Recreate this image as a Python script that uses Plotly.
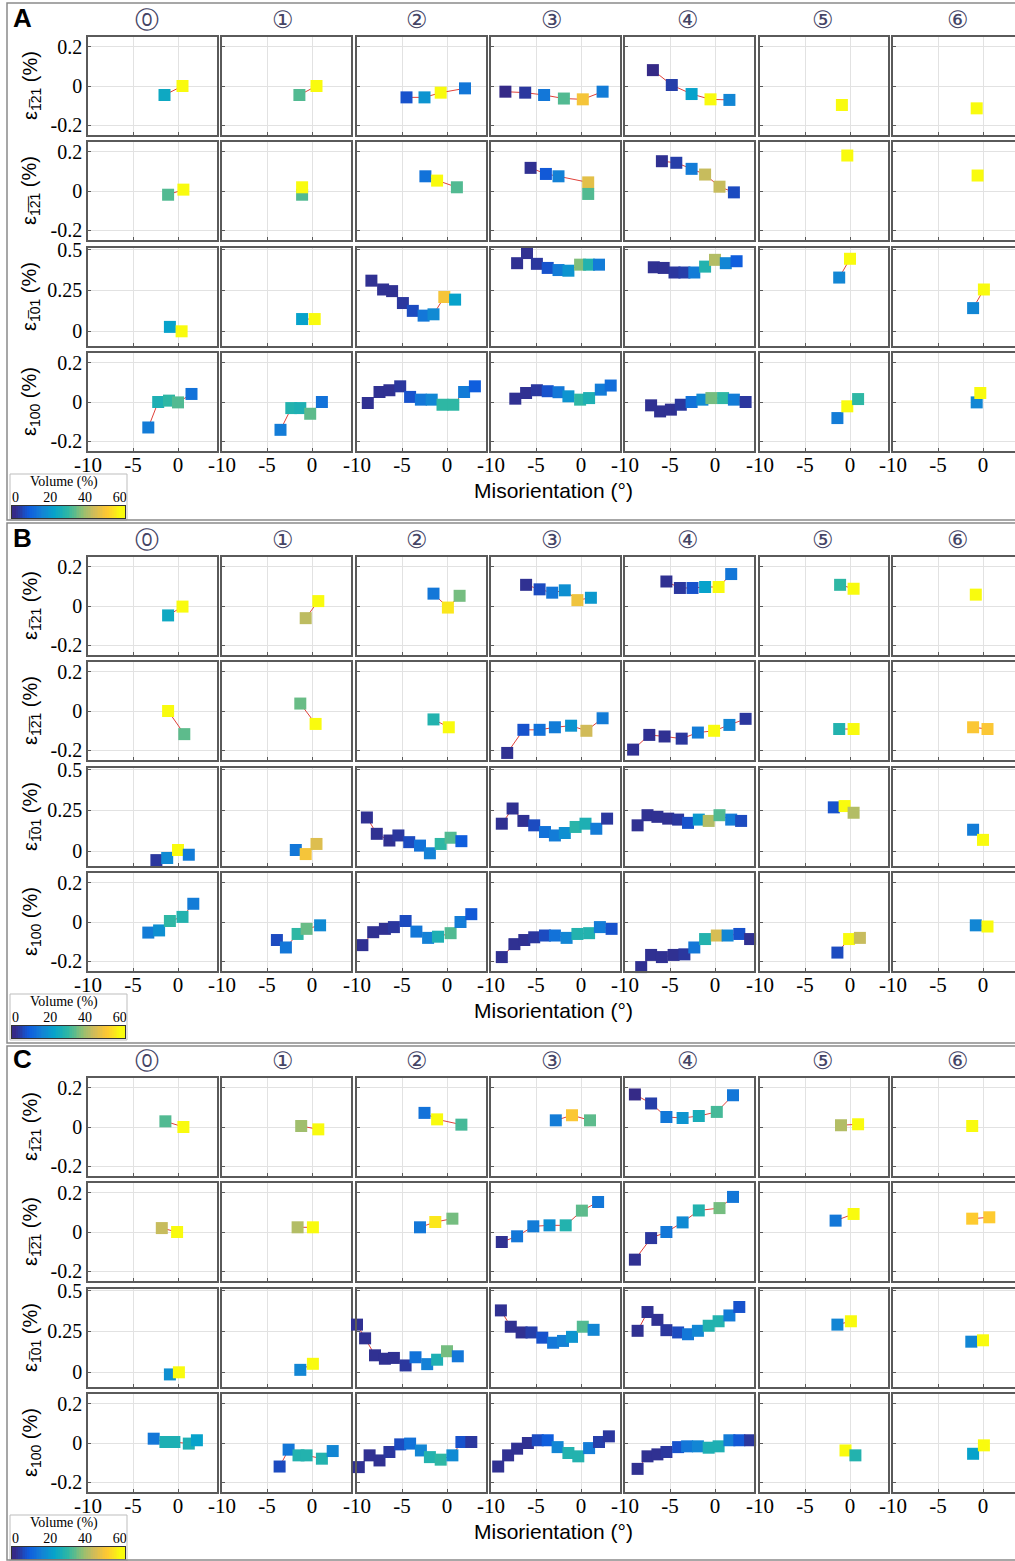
import plotly.graph_objects as go

# ---------------- data (x: misorientation °, y: strain %, v: volume %) ----------------
# Panel A
A1_x = [[-1.5, 0.5], [-1.4, 0.5], [-4.5, -2.5, -0.7, 2.0], [-8.4, -6.2, -4.1, -1.9, 0.2, 2.4], [-6.9, -4.8, -2.6, -0.5, 1.6], [-0.9], [-0.7]]
A1_y = [[-0.046, 0.0], [-0.046, 0.0], [-0.058, -0.058, -0.034, -0.012], [-0.029, -0.034, -0.046, -0.064, -0.068, -0.029], [0.081, 0.005, -0.041, -0.068, -0.071], [-0.097], [-0.114]]
A1_v = [[24, 60], [33, 60], [6, 19, 60, 13], [0, 2, 13, 33, 51, 14], [0, 3, 22, 60, 16], [60], [60]]

A2_x = [[-1.1, 0.6], [-1.1, -1.1], [-2.4, -1.1, 1.1], [-5.6, -3.9, -2.5, 0.8, 0.8], [-5.9, -4.3, -2.6, -1.1, 0.5, 2.1], [-0.3], [-0.6]]
A2_y = [[-0.019, 0.007], [-0.019, 0.019], [0.075, 0.053, 0.019], [0.118, 0.087, 0.075, 0.044, -0.015], [0.152, 0.144, 0.113, 0.084, 0.022, -0.007], [0.181], [0.079]]
A2_v = [[33, 60], [33, 60], [12, 60, 33], [1, 7, 15, 48, 33], [1, 3, 14, 44, 44, 5], [60], [60]]

A3_x = [[-0.9, 0.4], [-1.1, 0.3], [-8.4, -7.1, -6.1, -4.9, -3.8, -2.6, -1.5, -0.3, 0.9], [-7.1, -6.0, -4.9, -3.7, -2.5, -1.4, -0.1, 0.9, 2.0], [-6.8, -5.7, -4.5, -3.4, -2.3, -1.1, 0.0, 1.2, 2.4], [-1.2, 0.0], [-1.1, 0.1]]
A3_y = [[0.027, 0.0], [0.075, 0.075], [0.31, 0.256, 0.246, 0.173, 0.125, 0.096, 0.104, 0.21, 0.194], [0.417, 0.479, 0.413, 0.388, 0.375, 0.371, 0.408, 0.408, 0.408], [0.392, 0.388, 0.36, 0.36, 0.36, 0.396, 0.4375, 0.417, 0.429], [0.329, 0.444], [0.142, 0.256]]
A3_v = [[22, 60], [22, 60], [1, 1, 1, 2, 5, 13, 17, 51, 22], [1, 1, 2, 6, 14, 19, 37, 28, 14], [1, 1, 2, 3, 14, 28, 42, 16, 8], [16, 60], [16, 60]]

A4_x = [[-3.3, -2.2, -1.0, 0.0, 1.5], [-3.5, -2.3, -1.3, -0.2, 1.1], [-8.8, -7.5, -6.4, -5.2, -4.1, -2.9, -1.7, -0.5, 0.7, 1.9, 3.1], [-7.3, -6.1, -4.9, -3.7, -2.5, -1.4, -0.1, 0.9, 2.2, 3.3], [-7.1, -6.1, -4.9, -3.8, -2.6, -1.4, -0.4, 0.9, 2.1, 3.4], [-1.4, -0.3, 0.9], [-0.7, -0.3]]
A4_y = [[-0.13, 0.0, 0.007, -0.002, 0.041], [-0.142, -0.031, -0.031, -0.06, 0.0], [-0.005, 0.051, 0.06, 0.08, 0.026, 0.012, 0.012, -0.014, -0.014, 0.051, 0.08], [0.017, 0.046, 0.06, 0.055, 0.05, 0.029, 0.012, 0.02, 0.063, 0.084], [-0.017, -0.048, -0.039, -0.014, 0.0, 0.012, 0.02, 0.02, 0.012, 0.0], [-0.082, -0.022, 0.015], [-0.002, 0.046]]
A4_v = [[14, 27, 30, 33, 12], [14, 28, 27, 34, 12], [1, 1, 1, 2, 6, 13, 16, 30, 30, 14, 8], [1, 1, 2, 6, 13, 19, 30, 27, 14, 11], [1, 1, 1, 2, 12, 17, 36, 30, 14, 2], [14, 60, 30], [16, 60]]

# Panel B
B1_x = [[-1.1, 0.5], [-0.7, 0.7], [-1.5, 0.1, 1.4], [-6.1, -4.6, -3.2, -1.8, -0.4, 1.1], [-5.4, -3.9, -2.5, -1.1, 0.4, 1.8], [-1.1, 0.4], [-0.8]]
B1_y = [[-0.048, -0.003], [-0.062, 0.025], [0.063, -0.008, 0.052], [0.108, 0.085, 0.068, 0.08, 0.03, 0.042], [0.125, 0.092, 0.092, 0.097, 0.097, 0.163], [0.108, 0.088], [0.058]]
B1_v = [[24, 60], [43, 60], [13, 57, 36], [1, 5, 13, 18, 50, 20], [1, 2, 6, 22, 60, 13], [30, 60], [60]]

B2_x = [[-1.1, 0.7], [-1.3, 0.4], [-1.5, 0.2], [-8.2, -6.4, -4.6, -2.9, -1.1, 0.6, 2.4], [-9.1, -7.3, -5.6, -3.7, -1.9, -0.1, 1.6, 3.4], [-1.2, 0.4], [-1.1, 0.5]]
B2_y = [[0.0, -0.118], [0.038, -0.066], [-0.043, -0.083], [-0.214, -0.096, -0.096, -0.083, -0.075, -0.101, -0.037], [-0.197, -0.122, -0.130, -0.141, -0.11, -0.101, -0.071, -0.04], [-0.092, -0.092], [-0.083, -0.092]]
B2_v = [[60, 34], [35, 60], [28, 60], [1, 6, 12, 14, 19, 45, 14], [1, 1, 1, 2, 14, 60, 16, 2], [28, 60], [52, 52]]

B3_x = [[-2.4, -1.2, 0.0, 1.2], [-1.8, -0.7, 0.5], [-8.9, -7.8, -6.4, -5.4, -4.2, -3.0, -1.9, -0.7, 0.4, 1.6], [-8.8, -7.6, -6.4, -5.2, -4.0, -2.9, -1.8, -0.6, 0.5, 1.7, 2.9], [-8.6, -7.5, -6.4, -5.2, -4.1, -3.0, -1.8, -0.7, 0.5, 1.8, 2.9], [-1.8, -0.6, 0.4], [-1.1, 0.0]]
B3_y = [[-0.054, -0.041, 0.008, -0.021], [0.008, -0.017, 0.045], [0.207, 0.107, 0.066, 0.097, 0.056, 0.035, -0.012, 0.045, 0.083, 0.062], [0.169, 0.262, 0.186, 0.159, 0.118, 0.097, 0.112, 0.149, 0.169, 0.138, 0.2], [0.159, 0.221, 0.211, 0.2, 0.194, 0.174, 0.194, 0.186, 0.221, 0.194, 0.186], [0.269, 0.277, 0.236], [0.132, 0.07]]
B3_v = [[2, 17, 60, 14], [13, 51, 47], [1, 1, 1, 2, 5, 12, 15, 30, 33, 8], [1, 1, 1, 5, 12, 14, 18, 29, 27, 14, 2], [1, 1, 1, 1, 2, 6, 20, 42, 33, 14, 5], [6, 60, 42], [14, 60]]

B4_x = [[-3.3, -2.1, -0.9, 0.5, 1.7], [-3.9, -2.9, -1.6, -0.6, 0.9], [-9.4, -8.2, -6.9, -5.9, -4.6, -3.4, -2.1, -1.0, 0.4, 1.5, 2.7], [-8.8, -7.4, -6.3, -5.2, -4.0, -2.9, -1.6, -0.4, 0.9, 2.1, 3.4], [-8.2, -7.1, -5.9, -4.6, -3.4, -2.3, -1.1, 0.2, 1.4, 2.7, 3.9], [-1.4, -0.1, 1.1], [-0.8, 0.5]]
B4_y = [[-0.054, -0.043, 0.005, 0.026, 0.093], [-0.092, -0.13, -0.061, -0.035, -0.017], [-0.118, -0.052, -0.035, -0.026, 0.005, -0.049, -0.081, -0.075, -0.057, 0.0, 0.04], [-0.179, -0.113, -0.092, -0.078, -0.069, -0.069, -0.081, -0.061, -0.057, -0.026, -0.035], [-0.23, -0.168, -0.179, -0.168, -0.165, -0.13, -0.087, -0.069, -0.069, -0.061, -0.087], [-0.156, -0.087, -0.081], [-0.017, -0.023]]
B4_v = [[14, 18, 30, 28, 14], [5, 13, 30, 35, 17], [1, 1, 1, 2, 5, 13, 15, 27, 33, 14, 7], [1, 1, 1, 2, 5, 12, 16, 28, 28, 14, 6], [1, 1, 1, 1, 2, 13, 28, 46, 16, 6, 1], [5, 60, 44], [16, 60]]

# Panel C
C1_x = [[-1.4, 0.6], [-1.2, 0.7], [-2.5, -1.1, 1.6], [-2.8, -1.0, 1.0], [-8.9, -7.1, -5.4, -3.6, -1.8, 0.2, 2.0], [-1.0, 0.9], [-1.2]]
C1_y = [[0.029, 0.0], [0.005, -0.012], [0.072, 0.039, 0.012], [0.034, 0.06, 0.034], [0.166, 0.12, 0.051, 0.046, 0.056, 0.077, 0.162], [0.009, 0.014], [0.005]]
C1_v = [[33, 60], [40, 60], [12, 60, 32], [14, 52, 34], [0, 3, 13, 19, 26, 32, 13], [42, 60], [60]]

C2_x = [[-1.8, -0.1], [-1.6, 0.1], [-3.0, -1.3, 0.6], [-8.8, -7.1, -5.3, -3.5, -1.7, 0.1, 1.9], [-8.9, -7.1, -5.4, -3.6, -1.8, 0.5, 2.0], [-1.6, 0.4], [-1.2, 0.7]]
C2_y = [[0.02, 0.0], [0.024, 0.024], [0.024, 0.051, 0.068], [-0.051, -0.022, 0.029, 0.034, 0.034, 0.109, 0.153], [-0.141, -0.031, 0.0, 0.049, 0.11, 0.122, 0.179], [0.058, 0.092], [0.068, 0.075]]
C2_v = [[44, 60], [42, 60], [13, 57, 36], [1, 13, 14, 18, 28, 34, 13], [1, 2, 13, 17, 28, 36, 13], [13, 60], [53, 53]]

C3_x = [[-0.9, 0.1], [-1.3, 0.1], [-10.0, -9.1, -8.0, -6.9, -5.9, -4.6, -3.5, -2.2, -1.1, 0.0, 1.2], [-8.9, -7.8, -6.6, -5.5, -4.3, -3.1, -2.0, -1.0, 0.2, 1.4], [-8.6, -7.5, -6.4, -5.4, -4.1, -3.0, -1.9, -0.7, 0.4, 1.6, 2.7], [-1.4, 0.1], [-1.3, 0.0]]
C3_y = [[-0.013, 0.0], [0.015, 0.052], [0.292, 0.208, 0.104, 0.083, 0.088, 0.042, 0.092, 0.05, 0.077, 0.129, 0.098], [0.379, 0.279, 0.244, 0.244, 0.212, 0.181, 0.192, 0.217, 0.279, 0.26], [0.254, 0.369, 0.321, 0.258, 0.244, 0.233, 0.254, 0.285, 0.3125, 0.348, 0.4], [0.292, 0.3125], [0.1875, 0.196]]
C3_v = [[18, 60], [16, 60], [1, 1, 1, 1, 1, 2, 12, 15, 27, 36, 13], [1, 1, 1, 3, 6, 13, 15, 19, 33, 16], [1, 1, 1, 2, 5, 13, 16, 28, 28, 14, 6], [16, 60], [16, 60]]

C4_x = [[-2.7, -1.4, -0.4, 1.2, 2.1], [-3.6, -2.6, -1.5, -0.6, 1.1, 2.3], [-9.8, -8.6, -7.5, -6.4, -5.2, -4.1, -2.9, -1.9, -0.7, 0.6, 1.6, 2.7], [-9.2, -8.1, -7.1, -5.9, -4.8, -3.7, -2.6, -1.4, -0.3, 0.9, 2.0, 3.1], [-8.6, -7.5, -6.4, -5.4, -4.1, -3.1, -1.9, -0.7, 0.4, 1.6, 2.7, 3.9], [-0.5, 0.6], [-1.1, 0.1]]
C4_y = [[0.022, 0.005, 0.005, -0.003, 0.014], [-0.12, -0.034, -0.063, -0.063, -0.08, -0.041], [-0.123, -0.063, -0.089, -0.046, -0.007, -0.003, -0.038, -0.072, -0.085, -0.063, 0.005, 0.005], [-0.12, -0.063, -0.029, 0.0, 0.014, 0.014, -0.021, -0.051, -0.068, -0.026, 0.005, 0.034], [-0.132, -0.068, -0.058, -0.046, -0.021, -0.017, -0.017, -0.024, -0.017, 0.014, 0.014, 0.014], [-0.038, -0.063], [-0.055, -0.012]]
C4_v = [[13, 27, 27, 27, 22], [5, 13, 28, 28, 28, 16], [1, 1, 1, 2, 5, 12, 16, 28, 30, 17, 6, 2], [1, 1, 1, 1, 5, 8, 16, 28, 28, 14, 3, 2], [1, 1, 1, 2, 6, 13, 16, 27, 27, 14, 7, 2], [60, 28], [22, 60]]

PANELS = ["A", "B", "C"]
COLUMN_LABELS = ["⓪", "①", "②", "③", "④", "⑤", "⑥"]
ROW_LABELS = ["ε<sub>1̅21</sub> (%)", "ε<sub>1̅2̅1</sub> (%)", "ε<sub>1̅01</sub> (%)", "ε<sub>100</sub> (%)"]
X_TICKS = [-10, -5, 0]
Y_TICKS_STD = [-0.2, 0, 0.2]
Y_TICKS_R3 = [0, 0.25, 0.5]
CBAR_TICKS = [0, 20, 40, 60]
CBAR_LEVELS = list(range(-2, 64))  # colour-scale swatch (clamped to 0..60 %)

DATA = {
    "A": [(A1_x, A1_y, A1_v), (A2_x, A2_y, A2_v), (A3_x, A3_y, A3_v), (A4_x, A4_y, A4_v)],
    "B": [(B1_x, B1_y, B1_v), (B2_x, B2_y, B2_v), (B3_x, B3_y, B3_v), (B4_x, B4_y, B4_v)],
    "C": [(C1_x, C1_y, C1_v), (C2_x, C2_y, C2_v), (C3_x, C3_y, C3_v), (C4_x, C4_y, C4_v)],
}

# ---------------- layout geometry (pixels) ----------------
W, H = 1015, 1561
PANEL_OFF = [0, 520, 1041]
COL_L = [88, 222, 357, 491, 625, 760, 893]
COL_W = [129, 129, 129, 129, 129, 128, 122]
HEADER_X = [147, 283, 417, 552, 688, 823, 958]
ROW_T = [37, 142, 248, 353]
BOX_H = 98
PX_PER_DEG = 9.0

PARULA = [
    [0.0, "#352a87"], [0.125, "#0f5cdd"], [0.25, "#1481d6"], [0.375, "#06a4ca"],
    [0.5, "#2eb7a4"], [0.625, "#87bf77"], [0.75, "#d1bb59"], [0.875, "#fec832"], [1.0, "#f9fb0e"],
]

FONT = "Liberation Sans"
NARROW = "Liberation Sans Narrow"


def px(x):
    return x / W


def py(y):
    return 1 - y / H


fig = go.Figure()
layout = {}
annotations = []
shapes = []

for p, pname in enumerate(PANELS):
    off = PANEL_OFF[p]
    cax = "coloraxis" if p == 0 else f"coloraxis{p + 1}"
    for r in range(4):
        xs_all, ys_all, vs_all = DATA[pname][r]
        top = off + ROW_T[r]
        for c in range(7):
            i = p * 28 + r * 7 + c + 1
            xn = "x" if i == 1 else f"x{i}"
            yn = "y" if i == 1 else f"y{i}"
            left = COL_L[c]
            w = COL_W[c]
            xr = [-10, -10 + w / PX_PER_DEG]
            yr = [-0.09, 0.51] if r == 2 else [-0.25, 0.25]
            ytv = Y_TICKS_R3 if r == 2 else Y_TICKS_STD
            ytt = ["0", "0.25", "0.5"] if r == 2 else ["-0.2", "0", "0.2"]
            layout["xaxis" if i == 1 else f"xaxis{i}"] = dict(
                domain=[px(left), min(1.0, px(left + w))], anchor=yn, range=xr,
                tickvals=X_TICKS, ticktext=[str(t) for t in X_TICKS],
                showticklabels=(r == 3), showgrid=True, gridcolor="#e2e2e2", gridwidth=1,
                zeroline=False, showline=True, mirror=True, linecolor="#5a5a5a", linewidth=1.5,
                ticks="inside", ticklen=3, tickcolor="#5a5a5a", automargin=False,
                ticklabelstandoff=-6,
                tickfont=dict(family=NARROW, size=21, color="black"), fixedrange=True,
            )
            layout["yaxis" if i == 1 else f"yaxis{i}"] = dict(
                domain=[py(top + BOX_H), py(top)], anchor=xn, range=yr,
                tickvals=ytv, ticktext=ytt,
                showticklabels=(c == 0), showgrid=True, gridcolor="#e2e2e2", gridwidth=1,
                zeroline=False, showline=True, mirror=True, linecolor="#5a5a5a", linewidth=1.5,
                ticks="inside", ticklen=3, tickcolor="#5a5a5a", automargin=False,
                tickfont=dict(family=NARROW, size=20, color="black"), fixedrange=True,
            )
            fig.add_trace(go.Scatter(
                x=xs_all[c], y=ys_all[c], xaxis=xn, yaxis=yn,
                mode="lines+markers",
                line=dict(color="#e0413a", width=1),
                marker=dict(symbol="square", size=12, color=vs_all[c], coloraxis=cax,
                            line=dict(width=0)),
                cliponaxis=False, showlegend=False, hoverinfo="skip",
            ))
        # row y-title
        annotations.append(dict(
            x=px(31), y=py(top + BOX_H / 2), xref="paper", yref="paper",
            text=ROW_LABELS[r], textangle=-90, showarrow=False,
            font=dict(family=FONT, size=20, color="black"),
            xanchor="center", yanchor="middle",
        ))
    # column headers
    for c in range(7):
        annotations.append(dict(
            x=px(HEADER_X[c]), y=py(off + 20), xref="paper", yref="paper",
            text=COLUMN_LABELS[c], showarrow=False,
            font=dict(family="DejaVu Sans", size=24, color="#454566"),
            xanchor="center", yanchor="middle",
        ))
    # panel letter
    annotations.append(dict(
        x=px(11), y=py(off + 18), xref="paper", yref="paper", text=f"<b>{pname}</b>",
        showarrow=False, font=dict(family=FONT, size=26, color="black"),
        xanchor="left", yanchor="middle",
    ))
    # x title
    annotations.append(dict(
        x=px(553), y=py(off + 490), xref="paper", yref="paper", text="Misorientation (°)",
        showarrow=False, font=dict(family=FONT, size=21, color="black"),
        xanchor="center", yanchor="middle",
    ))
    # colour axis (the scale is drawn as a small swatch axis)
    layout[cax] = dict(cmin=0, cmax=60, colorscale=PARULA, showscale=False)
    j = 84 + p + 1
    layout[f"xaxis{j}"] = dict(
        domain=[px(12), px(125)], anchor=f"y{j}", range=[-2, 63], side="top",
        tickvals=CBAR_TICKS, ticktext=[str(t) for t in CBAR_TICKS], ticks="",
        showgrid=False, zeroline=False, showline=True, mirror=True, linecolor="#333", linewidth=1,
        tickfont=dict(family=NARROW, size=14, color="black"), automargin=False, fixedrange=True,
        ticklabelstandoff=-3,
    )
    layout[f"yaxis{j}"] = dict(
        domain=[py(off + 518), py(off + 506)], anchor=f"x{j}", range=[-0.5, 0.5],
        showticklabels=False, ticks="", showgrid=False, zeroline=False,
        showline=True, mirror=True, linecolor="#333", linewidth=1, automargin=False, fixedrange=True,
    )
    fig.add_trace(go.Heatmap(
        x=CBAR_LEVELS, y=[0], z=[CBAR_LEVELS], xaxis=f"x{j}", yaxis=f"y{j}",
        colorscale=PARULA, zmin=0, zmax=60, showscale=False, hoverinfo="skip",
    ))
    annotations.append(dict(
        x=px(64), y=py(off + 482), xref="paper", yref="paper", text="Volume (%)",
        showarrow=False, font=dict(family=NARROW, size=14, color="black"),
        xanchor="center", yanchor="middle",
    ))
    # colorbar frame
    shapes.append(dict(type="rect", xref="paper", yref="paper",
                       x0=px(10), x1=px(127), y0=py(off + 520), y1=py(off + 474),
                       line=dict(color="#bdbdbd", width=1)))
    # panel frame (right edge runs off the page, as in the original)
    bottom = [520, 1043, 1560][p]
    topf = [3, 523, 1046][p]
    shapes.append(dict(type="rect", xref="paper", yref="paper",
                       x0=px(7), x1=px(1022), y0=py(bottom), y1=py(topf),
                       line=dict(color="#8a8a8a", width=1.5)))

fig.update_layout(
    template="none",
    width=W, height=H, margin=dict(l=0, r=0, t=0, b=0, pad=0),
    paper_bgcolor="white", plot_bgcolor="white",
    font=dict(family=FONT, color="black"),
    annotations=annotations, shapes=shapes, showlegend=False,
    **layout,
)

fig.write_html(
    "out.html",
    config={"displayModeBar": False},
    post_script="document.body.style.margin='0px';document.body.style.overflow='hidden';",
)
